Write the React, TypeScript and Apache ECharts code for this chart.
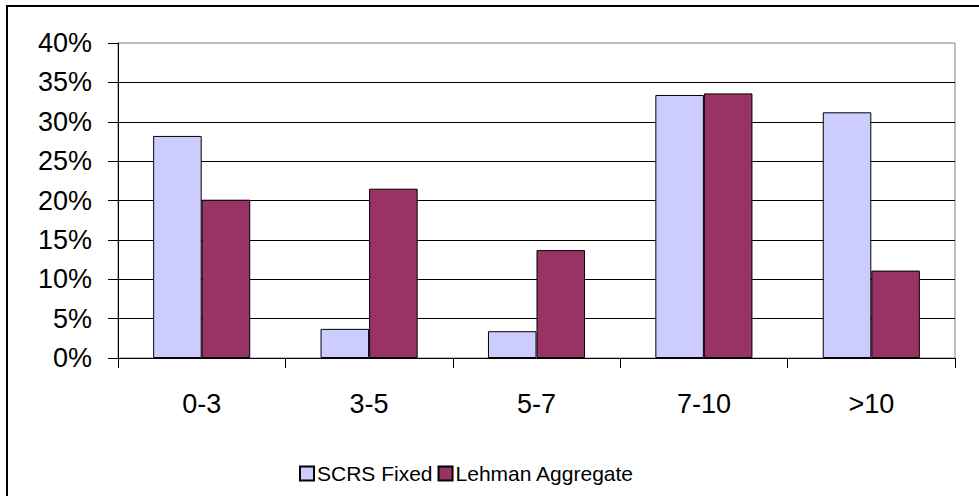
import React, { useEffect, useRef } from "react";
import * as echarts from "echarts";

const categories = ["0-3", "3-5", "5-7", "7-10", ">10"];
const scrsFixed = [28.2, 3.7, 3.4, 33.4, 31.2];
const lehmanAggregate = [20.1, 21.5, 13.7, 33.6, 11.1];
const seriesNames = ["SCRS Fixed", "Lehman Aggregate"];

export default function App() {
  const ref = useRef<HTMLDivElement>(null);
  useEffect(() => {
    if (!ref.current) return;
    const chart = echarts.init(ref.current, null, { renderer: "svg" });
    const font = "Arial, 'Liberation Sans', sans-serif";
    chart.setOption({
      animation: false,
      backgroundColor: "#ffffff",
      textStyle: { fontFamily: font },
      grid: {
        left: 118,
        right: 24,
        top: 43,
        bottom: 138,
        show: true,
        borderColor: "#808080",
        borderWidth: 1,
        backgroundColor: "transparent",
      },
      legend: {
        left: 294,
        top: 458,
        itemWidth: 14,
        itemHeight: 14,
        itemGap: 5,
        icon: "rect",
        textStyle: { fontSize: 21, color: "#000", fontFamily: font, padding: [0, 0, 0, -2] },
        data: seriesNames,
      },
      xAxis: {
        type: "category",
        data: categories,
        axisLine: { lineStyle: { color: "#000", width: 1 } },
        axisTick: { show: true, length: 10, lineStyle: { color: "#000" } },
        axisLabel: { fontSize: 27, color: "#000", margin: 32, fontFamily: font },
      },
      yAxis: {
        type: "value",
        min: 0,
        max: 40,
        interval: 5,
        axisLine: { show: true, lineStyle: { color: "#000", width: 1 } },
        axisTick: { show: true, length: 10, lineStyle: { color: "#000" } },
        axisLabel: {
          fontSize: 27,
          color: "#000",
          margin: 26,
          fontFamily: font,
          formatter: (v: number) => `${v}%`,
        },
        splitLine: {
          show: true,
          showMaxLine: false,
          lineStyle: { color: "#000", width: 1 },
        },
      },
      graphic: [
        {
          type: "rect",
          shape: { x: 7, y: 6, width: 1000, height: 520 },
          style: { fill: "none", stroke: "#000", lineWidth: 2 },
          silent: true,
        },
      ],
      series: [
        {
          name: seriesNames[0],
          type: "bar",
          data: scrsFixed,
          barGap: "0%",
          barCategoryGap: "42%",
          itemStyle: { color: "#CCCCFF", borderColor: "#000", borderWidth: 1 },
        },
        {
          name: seriesNames[1],
          type: "bar",
          data: lehmanAggregate,
          barGap: "0%",
          barCategoryGap: "42%",
          itemStyle: { color: "#993366", borderColor: "#000", borderWidth: 1 },
        },
      ],
    });
    return () => chart.dispose();
  }, []);
  return (
    <div
      ref={ref}
      style={{ position: "absolute", left: 0, top: 0, width: 979, height: 496 }}
    />
  );
}
